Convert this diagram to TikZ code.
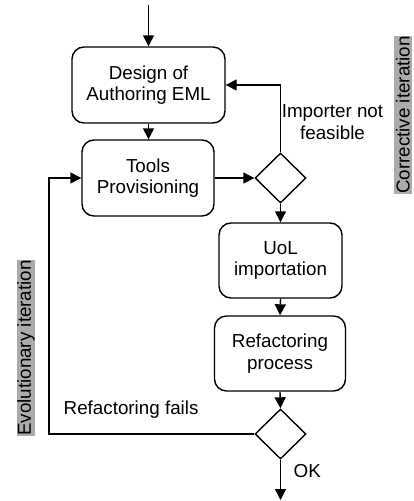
\documentclass[tikz,border=0pt]{standalone}
\usepackage{fontspec}
\setmainfont{Liberation Sans}
\usetikzlibrary{shapes.geometric,arrows.meta}
\begin{document}
\begin{tikzpicture}[x=1pt,y=-1pt,
  font=\fontsize{18.8}{21.5}\selectfont,
  line width=1.4pt,
  arr/.style={-{Triangle[length=11pt,width=11pt]}},
  procbox/.style={draw,rounded corners=12pt,align=center,inner sep=0pt},
  decision/.style={draw,diamond,inner sep=0pt,minimum width=51pt,minimum height=50pt},
  itlabel/.style={fill=black!33,inner sep=0pt,rotate=90,minimum height=18pt}]
\useasboundingbox (0,0) rectangle (414,501);
\coordinate (start) at (148.5,5);
\node[procbox,minimum width=153pt,minimum height=76pt] (design) at (148.5,85) {Design of\\Authoring EML};
\node[procbox,minimum width=132pt,minimum height=76pt] (tools) at (148,178) {Tools\\Provisioning};
\node[decision] (d1) at (280.5,178) {};
\node[procbox,minimum width=123pt,minimum height=75pt] (uol) at (280.5,260.5) {UoL\\importation};
\node[procbox,minimum width=131pt,minimum height=75pt] (refac) at (280,353.5) {Refactoring\\process};
\node[decision] (d2) at (280.5,434) {};
\coordinate (end) at (280.5,500);
\coordinate (corner1) at (280.5,85);
\coordinate (corner2) at (49,434);
\coordinate (corner3) at (49,178);

\draw[arr] (start) -- (design.north);
\draw[arr] (design.south) -- (design.south |- tools.north);
\draw[arr] (tools.east) -- (d1.west);
\draw[arr] (d1.north) -- (corner1) -- (design.east);
\draw[arr] (d1.south) -- (uol.north);
\draw[arr] (uol.south) -- (refac.north);
\draw[arr] (refac.south) -- (d2.north);
\draw[arr] (d2.south) -- (end);
\draw[arr] (d2.west) -- (corner2) -- (corner3) -- (tools.west);

\node[align=center] (imp) at (332.5,122) {Importer not\\feasible};
\node[anchor=west,inner sep=0pt] (fails) at (63,410) {Refactoring fails};
\node[anchor=west,inner sep=0pt] (ok) at (293,471) {OK};
\node[itlabel] (corr) at (403,115) {Corrective iteration};
\node[itlabel] (evo) at (26,348) {Evolutionary iteration};
\end{tikzpicture}
\end{document}
